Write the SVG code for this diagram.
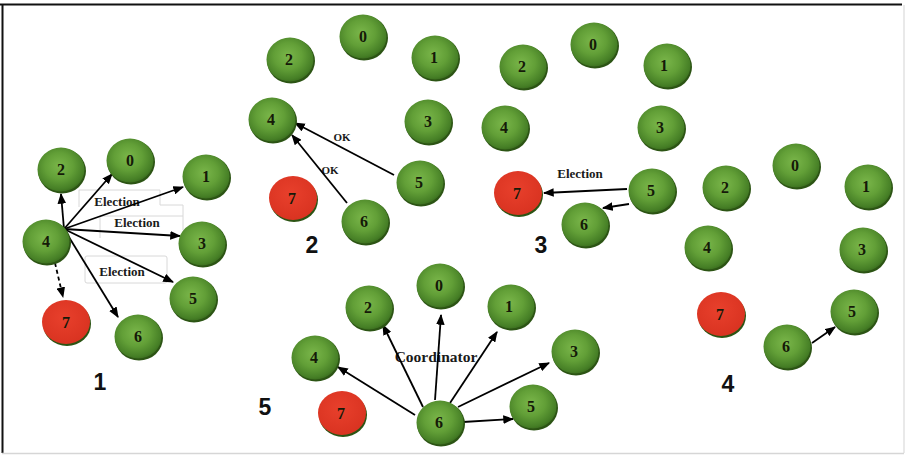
<svg xmlns="http://www.w3.org/2000/svg" width="906" height="455" viewBox="0 0 906 455">
  <style>
    .rim { fill: #2c5414; }
    .ball { fill: url(#greenBall); }
    .down { fill: url(#redBall); }
    .num { font-family: "Liberation Serif", serif; font-weight: bold; font-size: 16px; fill: #151a08; text-anchor: middle; }
    .msg { font-family: "Liberation Serif", serif; font-weight: bold; font-size: 13px; fill: #1a1a1a; text-anchor: middle; }
    .small { font-size: 11px; }
    .panel { font-family: "Liberation Sans", Arial, sans-serif; font-weight: bold; font-size: 23px; fill: #111; text-anchor: middle; }
    .edge { stroke: #000; stroke-width: 1.8; fill: none; marker-end: url(#head); }
    .dash { stroke-dasharray: 4 3; }
    .ghost { stroke: #d8d8d8; stroke-width: 1; fill: none; }
  </style>
  <defs>
    <radialGradient id="greenBall" cx="46%" cy="42%" r="60%">
      <stop offset="0%" stop-color="#7ab64a"/>
      <stop offset="50%" stop-color="#629f37"/>
      <stop offset="88%" stop-color="#467f26"/>
      <stop offset="100%" stop-color="#3a6c1e"/>
    </radialGradient>
    <radialGradient id="redBall" cx="45%" cy="40%" r="65%">
      <stop offset="0%" stop-color="#e8402c"/>
      <stop offset="100%" stop-color="#d83220"/>
    </radialGradient>
    <marker id="head" viewBox="0 0 10 8" refX="9" refY="4" markerWidth="6" markerHeight="5" orient="auto" markerUnits="strokeWidth">
      <path d="M0,0 L10,4 L0,8 Z" fill="#000"/>
    </marker>
  </defs>

  <!-- frame -->
  <rect x="0" y="0" width="906" height="455" fill="#fff"/>
  <line x1="0" y1="4.5" x2="902" y2="4.5" stroke="#111" stroke-width="2"/>
  <line x1="2.5" y1="4" x2="2.5" y2="453" stroke="#111" stroke-width="2"/>
  <line x1="904" y1="5" x2="904" y2="453" stroke="#e2e2e2" stroke-width="1.5"/>
  <line x1="2" y1="453.5" x2="904" y2="453.5" stroke="#d6d6d6" stroke-width="1.5"/>

  <!-- faint label boxes, panel 1 -->
  <g id="label-boxes">
    <path class="ghost" d="M79,207 V190 H160 V205 H183 V230"/>
    <path class="ghost" d="M100,238 V216 H183"/>
    <rect class="ghost" x="85" y="256" width="82" height="27" rx="2"/>
  </g>

  <!-- message labels (arrows run over them) -->
  <g id="labels">
    <text class="msg" x="117" y="206">Election</text>
    <text class="msg" x="137" y="227">Election</text>
    <text class="msg" x="122" y="276">Election</text>
    <text class="msg small" x="342" y="141">OK</text>
    <text class="msg small" x="330" y="174">OK</text>
    <text class="msg" x="580" y="178">Election</text>
    <text class="msg" x="436" y="362" style="font-size:15.5px">Coordinator</text>
  </g>

  <!-- connectors -->
  <g id="connectors">
    <!-- panel 1: 4 sends Election -->
    <line class="edge" x1="64" y1="229" x2="61" y2="194"/>
    <line class="edge" x1="64" y1="229" x2="112" y2="174"/>
    <line class="edge" x1="64" y1="229" x2="183" y2="187"/>
    <line class="edge" x1="64" y1="229" x2="180" y2="236"/>
    <line class="edge" x1="64" y1="229" x2="173" y2="282"/>
    <line class="edge" x1="64" y1="229" x2="118" y2="317"/>
    <line class="edge dash" x1="55" y1="263" x2="63" y2="297"/>
    <!-- panel 2: OK replies to 4 -->
    <line class="edge" x1="394" y1="175" x2="295" y2="123"/>
    <line class="edge" x1="347" y1="203" x2="292" y2="135"/>
    <!-- panel 3: 5 sends Election -->
    <line class="edge" x1="627" y1="189" x2="544" y2="193"/>
    <line class="edge" x1="629" y1="204" x2="603" y2="208"/>
    <!-- panel 4 -->
    <line class="edge" x1="812" y1="343" x2="835" y2="327"/>
    <!-- panel 5: 6 sends Coordinator -->
    <line class="edge" x1="415" y1="415" x2="338" y2="367"/>
    <line class="edge" x1="423" y1="407" x2="383" y2="325"/>
    <line class="edge" x1="435" y1="400" x2="441" y2="315"/>
    <line class="edge" x1="450" y1="403" x2="497" y2="332"/>
    <line class="edge" x1="458" y1="407" x2="549" y2="363"/>
    <line class="edge" x1="463" y1="422" x2="513" y2="419"/>
  </g>

  <!-- panel 1 -->
  <g id="p1-n2"><ellipse class="rim" cx="62" cy="171" rx="24" ry="22.5"/><ellipse class="ball" cx="61" cy="169.5" rx="23.5" ry="22"/><text class="num" x="61" y="175">2</text></g>
  <g id="p1-n0"><ellipse class="rim" cx="131" cy="162" rx="24" ry="22.5"/><ellipse class="ball" cx="130" cy="160.5" rx="23.5" ry="22"/><text class="num" x="130" y="166">0</text></g>
  <g id="p1-n1"><ellipse class="rim" cx="207" cy="178" rx="24" ry="22.5"/><ellipse class="ball" cx="206" cy="176.5" rx="23.5" ry="22"/><text class="num" x="206" y="182">1</text></g>
  <g id="p1-n4"><ellipse class="rim" cx="47" cy="243" rx="24" ry="22.5"/><ellipse class="ball" cx="46" cy="241.5" rx="23.5" ry="22"/><text class="num" x="46" y="247">4</text></g>
  <g id="p1-n3"><ellipse class="rim" cx="203" cy="245" rx="24" ry="22.5"/><ellipse class="ball" cx="202" cy="243.5" rx="23.5" ry="22"/><text class="num" x="202" y="249">3</text></g>
  <g id="p1-n5"><ellipse class="rim" cx="194" cy="300" rx="24" ry="22.5"/><ellipse class="ball" cx="193" cy="298.5" rx="23.5" ry="22"/><text class="num" x="193" y="304">5</text></g>
  <g id="p1-n7"><ellipse class="rim" cx="67" cy="324" rx="24" ry="22"/><ellipse class="down" cx="66" cy="322" rx="24" ry="22"/><text class="num" x="66" y="328">7</text></g>
  <g id="p1-n6"><ellipse class="rim" cx="139" cy="338" rx="24" ry="22.5"/><ellipse class="ball" cx="138" cy="336.5" rx="23.5" ry="22"/><text class="num" x="138" y="342">6</text></g>
  <text class="panel" x="100" y="390">1</text>

  <!-- panel 2 -->
  <g id="p2-n0"><ellipse class="rim" cx="364" cy="38" rx="24" ry="22.5"/><ellipse class="ball" cx="363" cy="36.5" rx="23.5" ry="22"/><text class="num" x="363" y="42">0</text></g>
  <g id="p2-n2"><ellipse class="rim" cx="291" cy="61" rx="24" ry="22.5"/><ellipse class="ball" cx="290" cy="59.5" rx="23.5" ry="22"/><text class="num" x="289" y="65">2</text></g>
  <g id="p2-n1"><ellipse class="rim" cx="436" cy="59" rx="24" ry="22.5"/><ellipse class="ball" cx="435" cy="57.5" rx="23.5" ry="22"/><text class="num" x="434" y="63">1</text></g>
  <g id="p2-n4"><ellipse class="rim" cx="273" cy="121" rx="24" ry="22.5"/><ellipse class="ball" cx="272" cy="119.5" rx="23.5" ry="22"/><text class="num" x="271" y="125">4</text></g>
  <g id="p2-n3"><ellipse class="rim" cx="429" cy="123" rx="24" ry="22.5"/><ellipse class="ball" cx="428" cy="121.5" rx="23.5" ry="22"/><text class="num" x="428" y="127">3</text></g>
  <g id="p2-n5"><ellipse class="rim" cx="421" cy="184" rx="24" ry="22.5"/><ellipse class="ball" cx="420" cy="182.5" rx="23.5" ry="22"/><text class="num" x="419" y="188">5</text></g>
  <g id="p2-n7"><ellipse class="rim" cx="294" cy="200" rx="24" ry="22"/><ellipse class="down" cx="293" cy="198" rx="24" ry="22"/><text class="num" x="292" y="204">7</text></g>
  <g id="p2-n6"><ellipse class="rim" cx="366" cy="223" rx="24" ry="22.5"/><ellipse class="ball" cx="365" cy="221.5" rx="23.5" ry="22"/><text class="num" x="364" y="227">6</text></g>
  <text class="panel" x="312" y="253">2</text>

  <!-- panel 3 -->
  <g id="p3-n0"><ellipse class="rim" cx="595" cy="46" rx="24" ry="22.5"/><ellipse class="ball" cx="594" cy="44.5" rx="23.5" ry="22"/><text class="num" x="593" y="50">0</text></g>
  <g id="p3-n2"><ellipse class="rim" cx="524" cy="68" rx="24" ry="22.5"/><ellipse class="ball" cx="523" cy="66.5" rx="23.5" ry="22"/><text class="num" x="522" y="72">2</text></g>
  <g id="p3-n1"><ellipse class="rim" cx="668" cy="67" rx="24" ry="22.5"/><ellipse class="ball" cx="667" cy="65.5" rx="23.5" ry="22"/><text class="num" x="664" y="71">1</text></g>
  <g id="p3-n4"><ellipse class="rim" cx="506" cy="129" rx="24" ry="22.5"/><ellipse class="ball" cx="505" cy="127.5" rx="23.5" ry="22"/><text class="num" x="504" y="133">4</text></g>
  <g id="p3-n3"><ellipse class="rim" cx="662" cy="129" rx="24" ry="22.5"/><ellipse class="ball" cx="661" cy="127.5" rx="23.5" ry="22"/><text class="num" x="660" y="133">3</text></g>
  <g id="p3-n5"><ellipse class="rim" cx="653" cy="192" rx="24" ry="22.5"/><ellipse class="ball" cx="652" cy="190.5" rx="23.5" ry="22"/><text class="num" x="651" y="196">5</text></g>
  <g id="p3-n7"><ellipse class="rim" cx="519" cy="195" rx="24" ry="22"/><ellipse class="down" cx="518" cy="193" rx="24" ry="22"/><text class="num" x="517" y="199">7</text></g>
  <g id="p3-n6"><ellipse class="rim" cx="586" cy="226" rx="24" ry="22.5"/><ellipse class="ball" cx="585" cy="224.5" rx="23.5" ry="22"/><text class="num" x="584" y="230">6</text></g>
  <text class="panel" x="541" y="253">3</text>

  <!-- panel 4 -->
  <g id="p4-n0"><ellipse class="rim" cx="797" cy="167" rx="24" ry="22.5"/><ellipse class="ball" cx="796" cy="165.5" rx="23.5" ry="22"/><text class="num" x="795" y="171">0</text></g>
  <g id="p4-n2"><ellipse class="rim" cx="727" cy="189" rx="24" ry="22.5"/><ellipse class="ball" cx="726" cy="187.5" rx="23.5" ry="22"/><text class="num" x="725" y="193">2</text></g>
  <g id="p4-n1"><ellipse class="rim" cx="869" cy="188" rx="24" ry="22.5"/><ellipse class="ball" cx="868" cy="186.5" rx="23.5" ry="22"/><text class="num" x="866" y="192">1</text></g>
  <g id="p4-n4"><ellipse class="rim" cx="709" cy="249" rx="24" ry="22.5"/><ellipse class="ball" cx="708" cy="247.5" rx="23.5" ry="22"/><text class="num" x="707" y="253">4</text></g>
  <g id="p4-n3"><ellipse class="rim" cx="864" cy="251" rx="24" ry="22.5"/><ellipse class="ball" cx="863" cy="249.5" rx="23.5" ry="22"/><text class="num" x="862" y="255">3</text></g>
  <g id="p4-n5"><ellipse class="rim" cx="855" cy="313" rx="24" ry="22.5"/><ellipse class="ball" cx="854" cy="311.5" rx="23.5" ry="22"/><text class="num" x="852" y="317">5</text></g>
  <g id="p4-n7"><ellipse class="rim" cx="722" cy="316" rx="24" ry="22"/><ellipse class="down" cx="721" cy="314" rx="24" ry="22"/><text class="num" x="720" y="320">7</text></g>
  <g id="p4-n6"><ellipse class="rim" cx="788" cy="348" rx="24" ry="22.5"/><ellipse class="ball" cx="787" cy="346.5" rx="23.5" ry="22"/><text class="num" x="786" y="352">6</text></g>
  <text class="panel" x="728" y="392">4</text>

  <!-- panel 5 -->
  <g id="p5-n0"><ellipse class="rim" cx="441" cy="287" rx="24" ry="22.5"/><ellipse class="ball" cx="440" cy="285.5" rx="23.5" ry="22"/><text class="num" x="439" y="291">0</text></g>
  <g id="p5-n2"><ellipse class="rim" cx="370" cy="309" rx="24" ry="22.5"/><ellipse class="ball" cx="369" cy="307.5" rx="23.5" ry="22"/><text class="num" x="368" y="313">2</text></g>
  <g id="p5-n1"><ellipse class="rim" cx="512" cy="308" rx="24" ry="22.5"/><ellipse class="ball" cx="511" cy="306.5" rx="23.5" ry="22"/><text class="num" x="509" y="312">1</text></g>
  <g id="p5-n4"><ellipse class="rim" cx="316" cy="359" rx="24" ry="22.5"/><ellipse class="ball" cx="315" cy="357.5" rx="23.5" ry="22"/><text class="num" x="314" y="363">4</text></g>
  <g id="p5-n3"><ellipse class="rim" cx="576" cy="353" rx="24" ry="22.5"/><ellipse class="ball" cx="575" cy="351.5" rx="23.5" ry="22"/><text class="num" x="574" y="357">3</text></g>
  <g id="p5-n5"><ellipse class="rim" cx="534" cy="408" rx="24" ry="22.5"/><ellipse class="ball" cx="533" cy="406.5" rx="23.5" ry="22"/><text class="num" x="531" y="412">5</text></g>
  <g id="p5-n7"><ellipse class="rim" cx="343" cy="415" rx="24" ry="22"/><ellipse class="down" cx="342" cy="413" rx="24" ry="22"/><text class="num" x="341" y="419">7</text></g>
  <g id="p5-n6"><ellipse class="rim" cx="441" cy="424" rx="24" ry="22.5"/><ellipse class="ball" cx="440" cy="422.5" rx="23.5" ry="22"/><text class="num" x="439" y="428">6</text></g>
  <text class="panel" x="265" y="415">5</text>
</svg>
